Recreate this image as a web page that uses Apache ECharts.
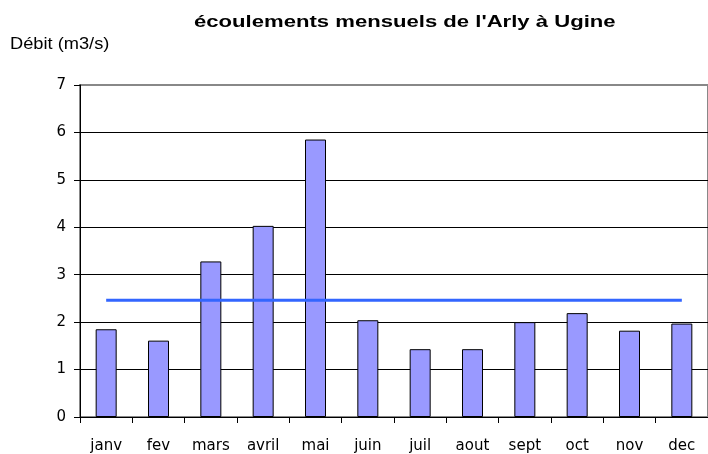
<!DOCTYPE html>
<html><head><meta charset="utf-8">
<script src="https://cdn.jsdelivr.net/npm/echarts@6/dist/echarts.min.js"></script>
<style>html,body{margin:0;padding:0;background:#fff}#c{width:708px;height:454px}</style>
</head><body><div id="c"></div>
<script>
var categories = ['janv','fev','mars','avril','mai','juin','juil','aout','sept','oct','nov','dec'];
var debit = [1.85, 1.61, 3.28, 4.03, 5.85, 2.04, 1.43, 1.43, 2.00, 2.19, 1.82, 1.97];
var moyenne = [2.46, 2.46, 2.46, 2.46, 2.46, 2.46, 2.46, 2.46, 2.46, 2.46, 2.46, 2.46];
var yTicks = [0, 1, 2, 3, 4, 5, 6, 7];
var titleText = "écoulements mensuels de l'Arly à Ugine";
var yName = 'Débit (m3/s)';

var chart = echarts.init(document.getElementById('c'), null, {renderer: 'canvas'});
var arial = '"Liberation Sans", Arial, sans-serif';
var wide = '"DejaVu Sans", Verdana, sans-serif';
chart.setOption({
  animation: false,
  graphic: [{
    type: 'text', x: 194, y: 22, scaleX: 1.3,
    style: {text: titleText, fontFamily: arial, fontSize: 17, fontWeight: 'bold', fill: '#000', verticalAlign: 'middle', align: 'left'}
  }, {
    type: 'text', x: 10, y: 45, scaleX: 1.14,
    style: {text: yName, fontFamily: arial, fontSize: 16, fill: '#000', verticalAlign: 'middle', align: 'left'}
  }],
  grid: {left: 80, right: -2, top: 85, bottom: 36, containLabel: false,
         show: true, borderColor: '#888', borderWidth: 2, backgroundColor: 'transparent'},
  xAxis: {
    type: 'category', data: categories,
    axisLine: {show: true, lineStyle: {color: '#000', width: 1}},
    axisTick: {show: true, length: 6, lineStyle: {color: '#000'}},
    axisLabel: {color: '#000', fontSize: 15, margin: 22, fontFamily: wide}
  },
  yAxis: {
    type: 'value', min: yTicks[0], max: yTicks[yTicks.length - 1], interval: 1,
    axisLine: {show: true, lineStyle: {color: '#000', width: 1}},
    axisTick: {show: true, length: 6, lineStyle: {color: '#000'}},
    axisLabel: {color: '#000', fontSize: 15, margin: 14, fontFamily: wide},
    splitLine: {show: true, lineStyle: {color: ['#000','#000','#000','#000','#000','#000','#000','#888'], width: 1}}
  },
  series: [{
    type: 'bar', data: debit, barWidth: 21,
    itemStyle: {color: '#9999FF', borderColor: '#000', borderWidth: 1}
  }, {
    type: 'line', data: moyenne, symbol: 'none',
    lineStyle: {color: '#3366FF', width: 3}
  }]
});
</script></body></html>
